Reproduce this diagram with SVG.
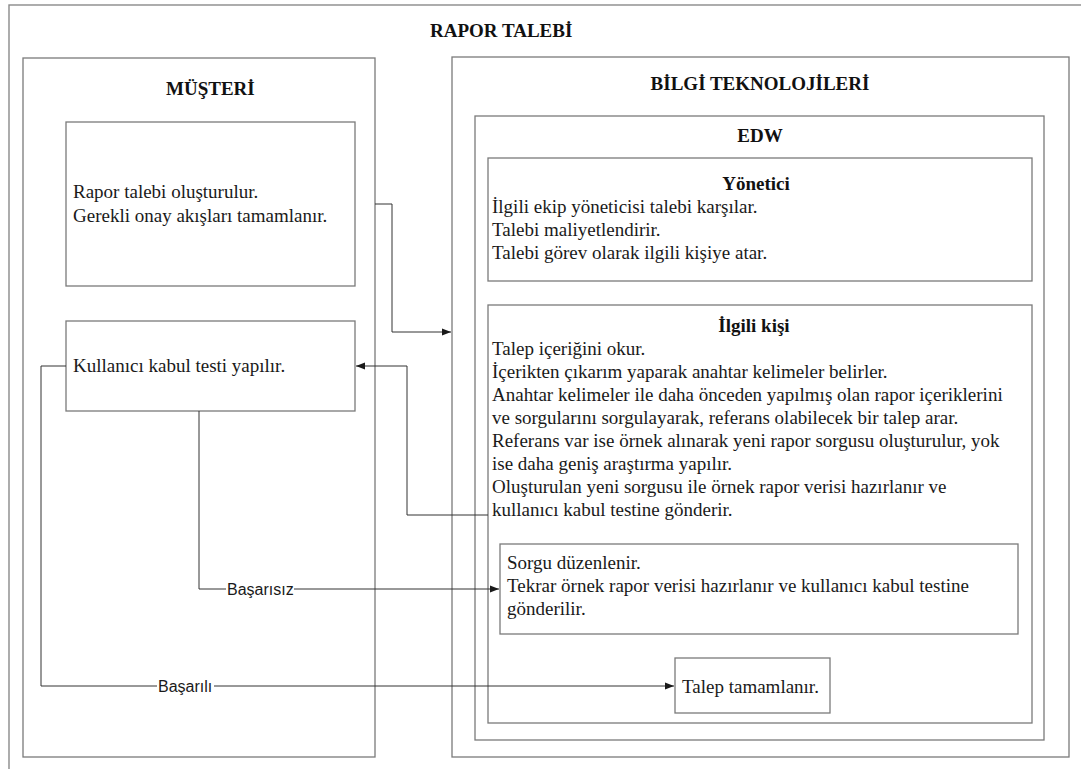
<svg xmlns="http://www.w3.org/2000/svg" width="1081" height="769" viewBox="0 0 1081 769">
  <defs>
    <marker id="arrow" viewBox="0 0 10 10" refX="10" refY="5" markerWidth="9" markerHeight="9" markerUnits="userSpaceOnUse" orient="auto">
      <path d="M0,1 L10,5 L0,9 Z" fill="#1a1a1a"/>
    </marker>
    <style>
      .frame { fill: none; stroke: #8a8a8a; stroke-width: 1.4; }
      .box { fill: #ffffff; stroke: #7a7a7a; stroke-width: 1.3; }
      .title { font-family: "Liberation Serif", "Times New Roman", serif; font-size: 19px; font-weight: bold; fill: #111; }
      .body { font-family: "Liberation Serif", "Times New Roman", serif; font-size: 19px; fill: #1a1a1a; }
      .link { fill: none; stroke: #333; stroke-width: 1; }
      .label { font-family: "Liberation Sans", Arial, sans-serif; font-size: 16px; fill: #1a1a1a; }
    </style>
  </defs>

  <rect width="1081" height="769" fill="#ffffff"/>

  <!-- outer page frame -->
  <g id="rapor-talebi">
    <rect class="frame" x="9" y="5" width="1100" height="800"/>
    <text class="title" x="430" y="37">RAPOR TALEBİ</text>
  </g>

  <!-- customer lane -->
  <g id="musteri">
    <rect class="box" x="23" y="58" width="352" height="699"/>
    <text class="title" x="166" y="95">MÜŞTERİ</text>
  </g>

  <g id="talep-olustur">
    <rect class="box" x="66" y="122" width="289" height="164"/>
    <text class="body" x="73" y="198">Rapor talebi oluşturulur.</text>
    <text class="body" x="73" y="222">Gerekli onay akışları tamamlanır.</text>
  </g>

  <g id="kabul-testi">
    <rect class="box" x="66" y="321" width="289" height="90"/>
    <text class="body" x="73" y="372">Kullanıcı kabul testi yapılır.</text>
  </g>

  <!-- IT lane -->
  <g id="bilgi-teknolojileri">
    <rect class="box" x="452" y="57" width="617" height="700"/>
    <text class="title" x="760" y="90" text-anchor="middle">BİLGİ TEKNOLOJİLERİ</text>
  </g>

  <g id="edw">
    <rect class="box" x="475" y="116" width="569" height="624"/>
    <text class="title" x="760" y="142" text-anchor="middle">EDW</text>
  </g>

  <g id="yonetici">
    <rect class="box" x="488" y="158" width="544" height="123"/>
    <text class="title" x="756" y="190" text-anchor="middle">Yönetici</text>
    <text class="body" x="492" y="213">İlgili ekip yöneticisi talebi karşılar.</text>
    <text class="body" x="492" y="236">Talebi maliyetlendirir.</text>
    <text class="body" x="492" y="259">Talebi görev olarak ilgili kişiye atar.</text>
  </g>

  <g id="ilgili-kisi">
    <rect class="box" x="488" y="305" width="544" height="418"/>
    <text class="title" x="754" y="332" text-anchor="middle">İlgili kişi</text>
    <text class="body" x="492" y="355">Talep içeriğini okur.</text>
    <text class="body" x="492" y="378">İçerikten çıkarım yaparak anahtar kelimeler belirler.</text>
    <text class="body" x="492" y="401">Anahtar kelimeler ile daha önceden yapılmış olan rapor içeriklerini</text>
    <text class="body" x="492" y="424">ve sorgularını sorgulayarak, referans olabilecek bir talep arar.</text>
    <text class="body" x="492" y="447">Referans var ise örnek alınarak yeni rapor sorgusu oluşturulur, yok</text>
    <text class="body" x="492" y="470">ise daha geniş araştırma yapılır.</text>
    <text class="body" x="492" y="493">Oluşturulan yeni sorgusu ile örnek rapor verisi hazırlanır ve</text>
    <text class="body" x="492" y="516">kullanıcı kabul testine gönderir.</text>
  </g>

  <g id="sorgu-duzenle">
    <rect class="box" x="500" y="544" width="518" height="90"/>
    <text class="body" x="507" y="569">Sorgu düzenlenir.</text>
    <text class="body" x="507" y="592">Tekrar örnek rapor verisi hazırlanır ve kullanıcı kabul testine</text>
    <text class="body" x="507" y="615">gönderilir.</text>
  </g>

  <g id="talep-tamam">
    <rect class="box" x="675" y="658" width="155" height="55"/>
    <text class="body" x="682" y="693">Talep tamamlanır.</text>
  </g>

  <!-- connectors -->
  <g id="connectors">
    <path class="link" d="M375,204 H392 V332 H451" marker-end="url(#arrow)"/>
    <path class="link" d="M488,515 H407 V366 H356" marker-end="url(#arrow)"/>
    <path class="link" d="M199,411 V589 H226"/>
    <path class="link" d="M294,589 H499" marker-end="url(#arrow)"/>
    <text class="label" x="227" y="595">Başarısız</text>
    <path class="link" d="M66,366 H41 V686 H157"/>
    <path class="link" d="M214,686 H674" marker-end="url(#arrow)"/>
    <text class="label" x="158" y="692">Başarılı</text>
  </g>
</svg>
